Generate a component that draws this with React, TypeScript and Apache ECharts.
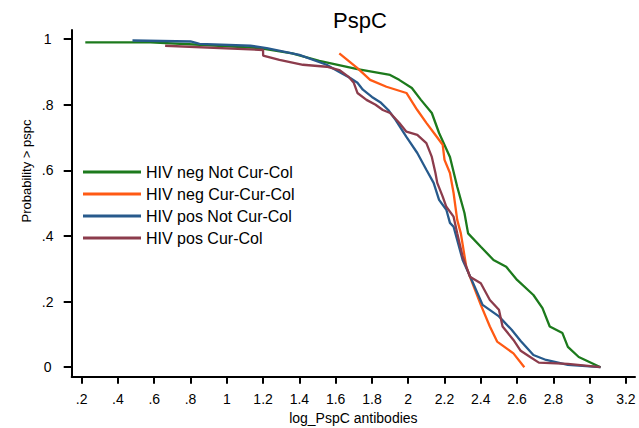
import React, { useEffect, useRef } from "react";
import * as echarts from "echarts";

// Survival-type curves: probability that PspC antibody level exceeds x
const negNotCurCol: [number, number][] = [
  [0.22, 0.99], [0.58, 0.99], [0.85, 0.983], [1.18, 0.973], [1.36, 0.957], [1.51, 0.934],
  [1.72, 0.909], [1.9, 0.891], [1.95, 0.876], [2.02, 0.851], [2.07, 0.815], [2.13, 0.775],
  [2.17, 0.714], [2.23, 0.641], [2.27, 0.55], [2.31, 0.47], [2.33, 0.408], [2.4, 0.367],
  [2.47, 0.327], [2.54, 0.306], [2.6, 0.266], [2.69, 0.22], [2.74, 0.18], [2.78, 0.124],
  [2.85, 0.104], [2.88, 0.062], [2.94, 0.031], [3.06, 0.0],
];

const negCurCurCol: [number, number][] = [
  [1.62, 0.957], [1.72, 0.912], [1.79, 0.876], [1.88, 0.855], [1.99, 0.836], [2.05, 0.784],
  [2.1, 0.745], [2.15, 0.708], [2.19, 0.678], [2.2, 0.632], [2.23, 0.592], [2.25, 0.531],
  [2.27, 0.449], [2.29, 0.408], [2.32, 0.306], [2.34, 0.276], [2.4, 0.19], [2.45, 0.124],
  [2.49, 0.078], [2.58, 0.042], [2.64, 0.0],
];

const posNotCurCol: [number, number][] = [
  [0.48, 0.996], [0.8, 0.993], [0.85, 0.986], [1.13, 0.98], [1.22, 0.973], [1.4, 0.952],
  [1.55, 0.922], [1.62, 0.9], [1.68, 0.882], [1.72, 0.867], [1.75, 0.846], [1.8, 0.824],
  [1.85, 0.806], [1.89, 0.784], [1.93, 0.754], [1.99, 0.702], [2.05, 0.653], [2.1, 0.602],
  [2.14, 0.562], [2.17, 0.51], [2.21, 0.48], [2.23, 0.44], [2.25, 0.428], [2.3, 0.327],
  [2.35, 0.266], [2.41, 0.19], [2.5, 0.155], [2.57, 0.114], [2.62, 0.08], [2.69, 0.037],
  [2.76, 0.022], [2.88, 0.007], [3.06, 0.0],
];

const posCurCol: [number, number][] = [
  [0.66, 0.98], [1.2, 0.967], [1.2, 0.95], [1.29, 0.937], [1.42, 0.922], [1.55, 0.916],
  [1.62, 0.906], [1.67, 0.886], [1.7, 0.867], [1.72, 0.836], [1.77, 0.815], [1.82, 0.8],
  [1.86, 0.784], [1.9, 0.775], [1.95, 0.745], [1.99, 0.718], [2.05, 0.708], [2.1, 0.683],
  [2.13, 0.641], [2.15, 0.592], [2.16, 0.562], [2.19, 0.52], [2.21, 0.489], [2.25, 0.459],
  [2.27, 0.408], [2.3, 0.337], [2.34, 0.276], [2.4, 0.256], [2.45, 0.205], [2.5, 0.175],
  [2.52, 0.124], [2.58, 0.083], [2.62, 0.05], [2.67, 0.032], [2.72, 0.014], [2.88, 0.01],
  [3.06, 0.0],
];

const seriesNames = [
  "HIV neg Not Cur-Col",
  "HIV neg Cur-Cur-Col",
  "HIV pos Not Cur-Col",
  "HIV pos Cur-Col",
];
const seriesColors = ["#1c7a1c", "#ff5a14", "#275a8c", "#8c3c4c"];

const xTicks = [0.2, 0.4, 0.6, 0.8, 1, 1.2, 1.4, 1.6, 1.8, 2, 2.2, 2.4, 2.6, 2.8, 3, 3.2];
const yTicks = [0, 0.2, 0.4, 0.6, 0.8, 1];

const FONT = "'Liberation Sans', Arial, sans-serif";

// Stata-style labels: drop the leading zero (".2")
const fmt = (v: number) => {
  const s = String(Math.round(v * 10) / 10);
  return s.startsWith("0.") ? s.slice(1) : s;
};

export default function App() {
  const ref = useRef<HTMLDivElement>(null);

  useEffect(() => {
    if (!ref.current) return;
    const chart = echarts.init(ref.current, undefined, { renderer: "svg" });
    const curves = [negNotCurCol, negCurCurCol, posNotCurCol, posCurCol];

    chart.setOption({
      animation: false,
      backgroundColor: "#ffffff",
      title: {
        text: "PspC",
        left: 355,
        textAlign: "center",
        top: 4,
        textStyle: { fontFamily: FONT, fontSize: 22, fontWeight: "normal", color: "#000" },
      },
      legend: {
        orient: "vertical",
        left: 83,
        top: 164,
        padding: 0,
        icon: "rect",
        itemWidth: 58,
        itemHeight: 3,
        itemGap: 6,
        data: seriesNames,
        textStyle: { fontFamily: FONT, fontSize: 16, color: "#000", lineHeight: 16 },
      },
      // y-axis title sits a little above the plot's middle
      graphic: [
        {
          type: "text",
          x: 26,
          y: 171,
          rotation: Math.PI / 2,
          style: {
            text: "Probability > pspc",
            fontFamily: FONT,
            fontSize: 13,
            fill: "#000",
            align: "center",
            verticalAlign: "middle",
          },
        },
      ],
      grid: {
        left: 71.7,
        right: 4,
        top: 30,
        bottom: 51.3,
        containLabel: false,
        outerBoundsMode: "none",
      },
      xAxis: {
        type: "value",
        min: 0.145,
        max: 3.25,
        name: "log_PspC antibodies",
        nameLocation: "middle",
        nameGap: 32,
        nameTextStyle: { fontFamily: FONT, fontSize: 14, color: "#000" },
        axisLine: { onZero: false, lineStyle: { color: "#000", width: 2 } },
        axisTick: { customValues: xTicks, length: 7, lineStyle: { color: "#000", width: 2 } },
        axisLabel: {
          customValues: xTicks,
          formatter: fmt,
          margin: 15,
          fontFamily: FONT,
          fontSize: 14,
          color: "#000",
        },
        splitLine: { show: false },
      },
      yAxis: {
        type: "value",
        min: -0.029,
        max: 1.028,
        axisLine: { onZero: false, lineStyle: { color: "#000", width: 2 } },
        axisTick: { customValues: yTicks, length: 8, lineStyle: { color: "#000", width: 2 } },
        axisLabel: {
          customValues: yTicks,
          formatter: fmt,
          margin: 24,
          align: "center",
          fontFamily: FONT,
          fontSize: 14,
          color: "#000",
        },
        splitLine: { show: false },
      },
      series: curves.map((d, i) => ({
        name: seriesNames[i],
        type: "line",
        data: d,
        showSymbol: false,
        symbol: "none",
        color: seriesColors[i],
        lineStyle: { color: seriesColors[i], width: 2.3 },
      })),
    });

    return () => chart.dispose();
  }, []);

  return (
    <div
      ref={ref}
      style={{ position: "fixed", left: 0, top: 0, width: 639, height: 428, background: "#fff" }}
    />
  );
}
